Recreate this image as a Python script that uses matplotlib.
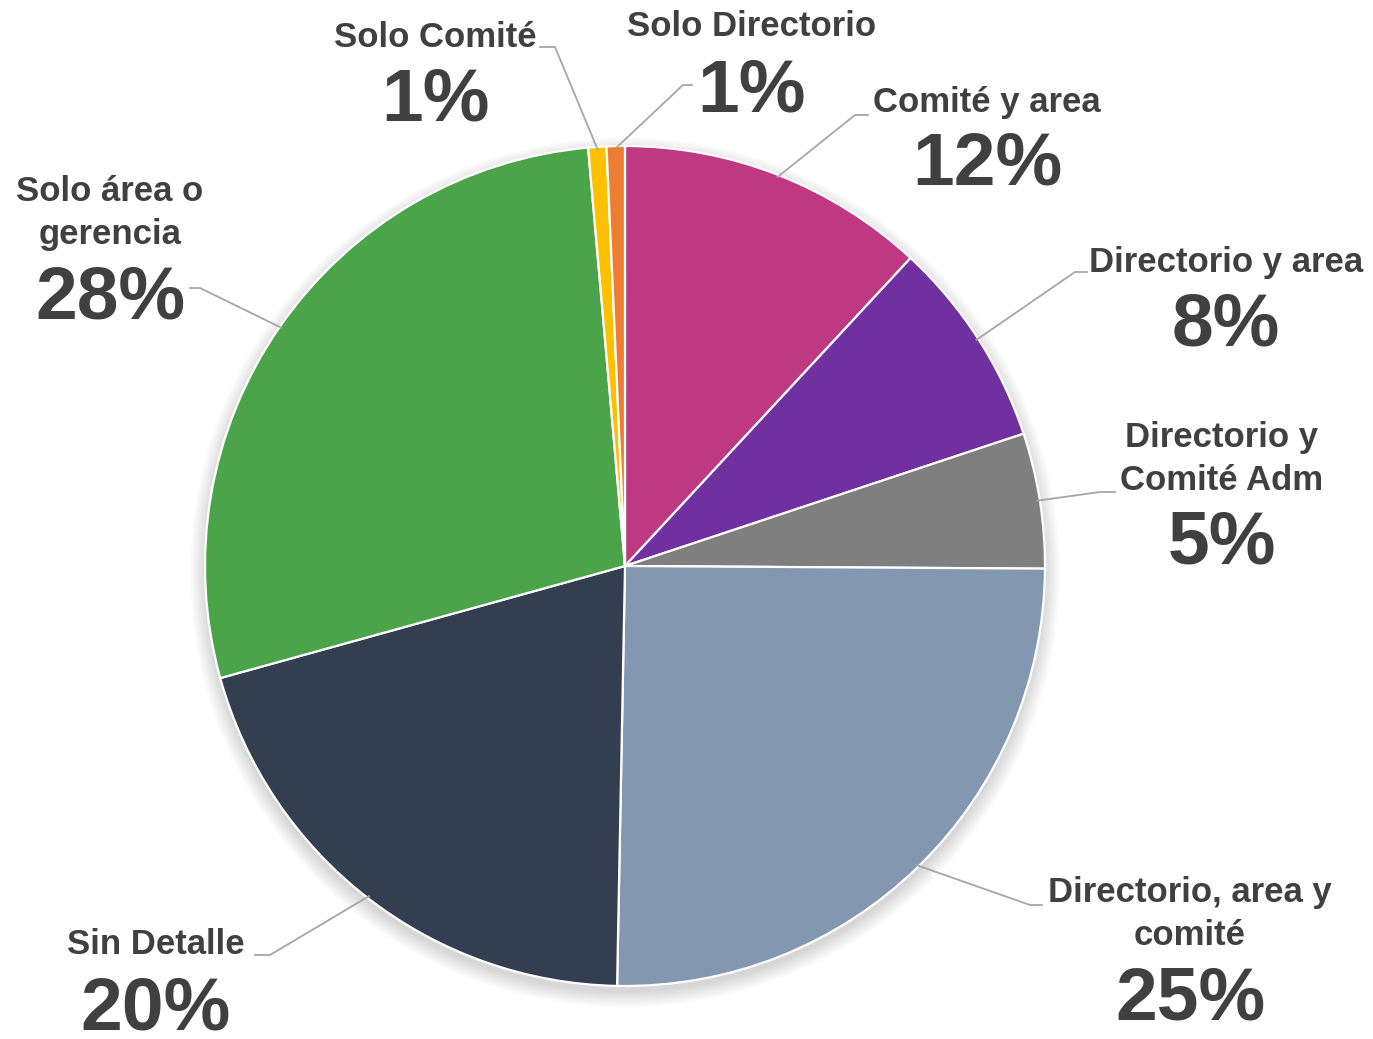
import numpy as np
import matplotlib.pyplot as plt
from matplotlib.patches import Circle

plt.rcParams['font.family'] = ['Liberation Sans', 'DejaVu Sans']

labels = ['Comité y area', 'Directorio y area', 'Directorio y\nComité Adm',
          'Directorio, area y\ncomité', 'Sin Detalle', 'Solo área o\ngerencia',
          'Solo Comité', 'Solo Directorio']
values = [11.9, 8.0, 5.2, 25.2, 20.4, 27.9, 0.7, 0.7]
pct_text = ['12%', '8%', '5%', '25%', '20%', '28%', '1%', '1%']
colors = ['#BE3882', '#7030A0', '#7F7F7F', '#8497B0', '#333F50', '#4BA34A',
          '#FFC000', '#ED7D31']

W, H = 1373, 1039
CX, CY, R = 625, 566, 420


def px(x, y):
    return (x - CX) / R, (CY - y) / R


# layout in pixels: text center x, name y, pct y, elbow, line end
layout = [
    (987, 102, 165, (855, 115), (868, 115)),
    (1226, 262, 326, (1075, 272), (1087, 272)),
    (1222, 459, 544, (1100, 492), (1115, 492)),
    (1190, 914, 1000, (1030, 905), (1042, 905)),
    (156, 945, 1010, (270, 955), (255, 955)),
    (110, 213, 299, (200, 288), (190, 288)),
    (435, 37, 101, (555, 47), (540, 47)),
    (752, 27, 92, (683, 85), (692, 85)),
]

fig = plt.figure(figsize=(W / 100, H / 100), dpi=100)
ax = fig.add_axes([0, 0, 1, 1])

# soft shadow
for k in range(8):
    ax.add_patch(Circle((0.0, -0.015), 1.0 + k * 0.005, color='black',
                        alpha=0.018, lw=0, zorder=0))

wedges, _ = ax.pie(values, colors=colors, startangle=90, counterclock=False,
                   radius=1.0, center=(0, 0), frame=True,
                   wedgeprops=dict(edgecolor='white', linewidth=1.6))
for w in wedges:
    w.set_zorder(2)
ax.set_xlim(-CX / R, (W - CX) / R)
ax.set_ylim(-(H - CY) / R, CY / R)
ax.axis('off')

txt = '#404040'
for w, name, pct, (tx, ny, py, elb, end) in zip(wedges, labels, pct_text, layout):
    ang = np.deg2rad((w.theta1 + w.theta2) / 2)
    sx, sy = np.cos(ang) * 0.995, np.sin(ang) * 0.995
    ex, ey = px(*elb)
    fx, fy = px(*end)
    ax.plot([sx, ex, fx], [sy, ey, fy], color='#A6A6A6', lw=1.3, zorder=3)
    x, y = px(tx, ny)
    ax.text(x, y, name, ha='center', va='center', fontsize=25,
            fontweight='bold', color=txt, linespacing=1.35)
    x, y = px(tx, py)
    ax.text(x, y, pct, ha='center', va='center', fontsize=54,
            fontweight='bold', color=txt)

fig.savefig('out.png', dpi=100, facecolor='white')
